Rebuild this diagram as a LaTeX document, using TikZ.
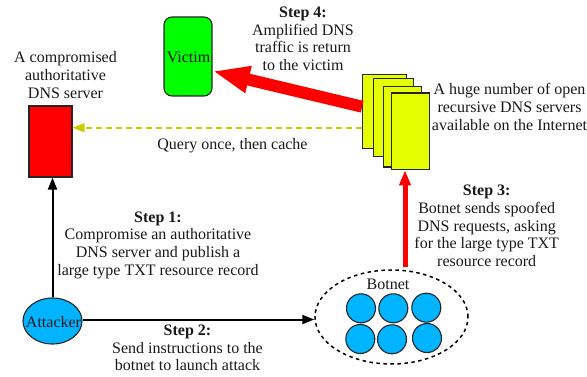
\documentclass[tikz,border=0pt]{standalone}
\usepackage{fontspec}
\setmainfont{Liberation Serif}
\usetikzlibrary{arrows.meta,shapes.geometric}
\tikzset{
  lbl/.style={inner sep=0pt,align=center,font=\fontsize{16}{17.7}\selectfont,text=black!90},
  server/.style={draw=black!85,line width=1.1pt,inner sep=0pt},
  yserver/.style={server,fill={rgb,255:red,230;green,255;blue,0}},
  bot/.style={circle,draw=black!85,line width=1.1pt,fill={rgb,255:red,0;green,180;blue,255},minimum size=29pt,inner sep=0pt},
  blackarrow/.style={draw=black,line width=2pt,-{Triangle[length=12pt,width=9pt]}},
  redarrow/.style={draw=red,line width=5pt,-{Triangle[length=15pt,width=11pt]}},
  bigarrow/.style={draw=red,line width=12pt,-{Triangle[length=37pt,width=25pt]}},
  cachearrow/.style={draw={rgb,255:red,204;green,204;blue,0},line width=1.8pt,dash pattern=on 6pt off 4pt,-{Triangle[length=12pt,width=9pt]}}
}
\begin{document}
\begin{tikzpicture}[x=1pt,y=-1pt]
\useasboundingbox (0,0) rectangle (587,377);
% servers
\node[server,fill=red,minimum width=43pt,minimum height=71pt] (auth) at (50.5,141.5) {};
\node[draw=black!85,line width=1.1pt,fill={rgb,255:red,0;green,255;blue,0},rounded corners=8pt,minimum width=48pt,minimum height=79pt,inner sep=0pt] (victim) at (188,56.5) {};
\node[lbl] (victimtxt) at (188.5,57) {Victim};
\node[yserver,minimum width=44pt,minimum height=74.5pt] (za) at (384.7,111.5) {};
\node[yserver,minimum width=39.7pt,minimum height=78.5pt] (zb) at (393.2,117.5) {};
\node[yserver,minimum width=37.3pt,minimum height=80.7pt] (zc) at (402.4,126.7) {};
\node[yserver,minimum width=37.6pt,minimum height=76.7pt] (zd) at (410.5,131.4) {};
% attacker
\node[ellipse,draw=black!85,line width=1.1pt,fill={rgb,255:red,0;green,180;blue,255},minimum width=59pt,minimum height=46pt,inner sep=0pt] (attacker) at (52.5,321) {};
\node[lbl] (attackertxt) at (53.5,322) {Attacker};
% botnet
\node[ellipse,draw=black,line width=1.5pt,dash pattern=on 3.5pt off 3.5pt,minimum width=153pt,minimum height=94pt,inner sep=0pt] (botnet) at (391.5,317) {};
\node[lbl] (botnettxt) at (388,284.5) {Botnet};
\node[bot] (b1) at (361,308.3) {};
\node[bot] (b2) at (393.3,308.3) {};
\node[bot] (b3) at (426.3,307.7) {};
\node[bot] (b4) at (360.3,339) {};
\node[bot] (b5) at (392,339.3) {};
\node[bot] (b6) at (427,338) {};
% connectors
\draw[blackarrow] (attacker.north) -- (attacker.north |- auth.south);
\draw[blackarrow] ([yshift=1.5pt]attacker.east) -- ([yshift=1.5pt]attacker.east -| botnet.west);
\draw[redarrow] ([xshift=13.5pt,yshift=2pt]botnet.north) -- ([xshift=-5.5pt]zd.south);
\draw[bigarrow] ([yshift=4.8pt]za.west) -- ([yshift=-14.5pt]victim.east);
\draw[cachearrow] ([yshift=-16.2pt]za.west) -- ([yshift=13.8pt]auth.east);
% labels
\node[lbl] (authlbl) at (65.5,75) {A compromised\\authoritative\\ DNS server};
\node[lbl] (s4) at (303,38.7) {\textbf{Step 4:}\\Amplified DNS\\traffic is return\\to the victim};
\node[lbl] (qlbl) at (232.5,146) {Query once, then cache};
\node[lbl] (openlbl) at (509.5,107) {A huge number of open\\recursive DNS servers\\available on the Internet};
\node[lbl] (s3) at (486.7,226) {\textbf{Step 3:}\\Botnet sends spoofed\\DNS requests, asking\\for the large type TXT\\resource record};
\node[lbl] (s1) at (158,245) {\textbf{Step 1:}\\Compromise an authoritative\\DNS server and publish a\\large type TXT resource record};
\node[lbl] (s2) at (187.5,348) {\textbf{Step 2:}\\Send instructions to the\\botnet to launch attack};
\end{tikzpicture}
\end{document}
